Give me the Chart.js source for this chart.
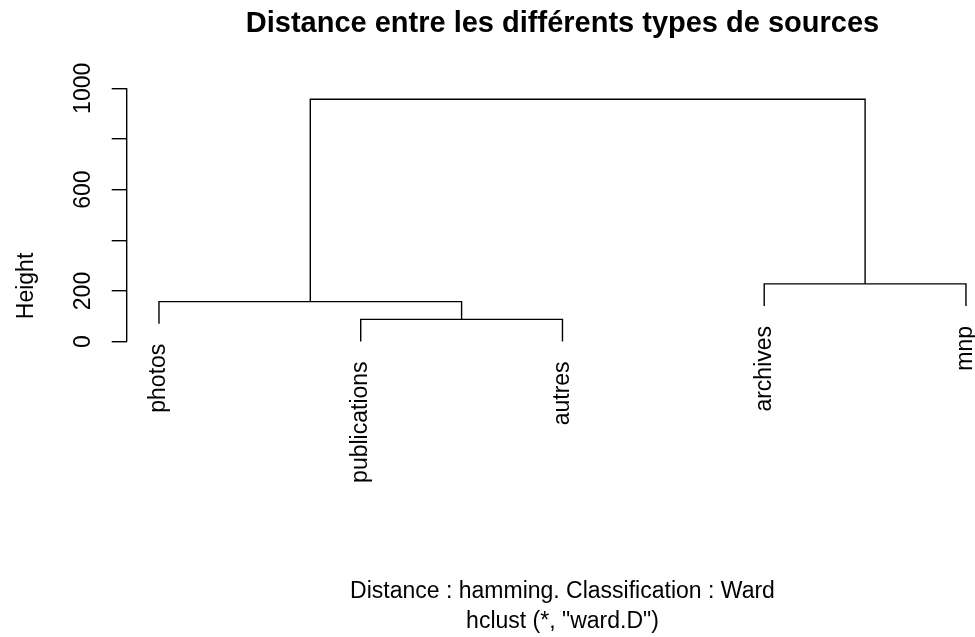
<!DOCTYPE html>
<html>
<head>
<meta charset="utf-8">
<title>Distance entre les différents types de sources</title>
<script src="https://cdn.jsdelivr.net/npm/chart.js@4.4.1/dist/chart.umd.min.js"></script>
<style>
  html, body { margin: 0; padding: 0; background: #fff; }
  canvas { display: block; }
</style>
</head>
<body>
<canvas id="dendro" width="975" height="637"></canvas>
<script>
// feuilles dans l'ordre du dendrogramme
var leafLabels = ['photos', 'publications', 'autres', 'archives', 'mnp'];

// fusions (notation hclust : négatif = feuille, positif = fusion précédente)
var mergeLeft = [-2, -1, -4, 2];
var mergeRight = [-3, 1, -5, 3];
var mergeHeight = [88, 158, 228, 957];

// axe des hauteurs
var yTicks = [0, 200, 400, 600, 800, 1000];
var yTickLabels = ['0', '200', '', '600', '', '1000'];

var titre = 'Distance entre les différents types de sources';
var sousTitre = ['Distance : hamming. Classification : Ward', 'hclust (*, "ward.D")'];

var FONT = 'Liberation Sans, Arial, sans-serif';
var FS = 23;

// hang = 0.1 comme dans plot.hclust
var hang = 0.1 * (Math.max.apply(null, mergeHeight) - Math.min.apply(null, mergeHeight));

var nodeX = [], nodeY = [];
function childPos(c) {
    if (c < 0) return { x: -c, top: null };
    return { x: nodeX[c - 1], top: nodeY[c - 1] };
}

var leafEnds = [];
var datasets = [];
for (var i = 0; i < mergeHeight.length; i++) {
    var h = mergeHeight[i];
    var l = childPos(mergeLeft[i]);
    var r = childPos(mergeRight[i]);
    var lb = l.top === null ? h - hang : l.top;
    var rb = r.top === null ? h - hang : r.top;
    if (mergeLeft[i] < 0) leafEnds[-mergeLeft[i] - 1] = lb;
    if (mergeRight[i] < 0) leafEnds[-mergeRight[i] - 1] = rb;
    nodeX.push((l.x + r.x) / 2);
    nodeY.push(h);
    datasets.push({
        data: [{ x: l.x, y: lb }, { x: l.x, y: h }, { x: r.x, y: h }, { x: r.x, y: rb }],
        showLine: true,
        borderColor: '#000',
        borderWidth: 1.4,
        pointRadius: 0,
        fill: false,
        tension: 0
    });
}

function texteVertical(ctx, txt, x, y) {
    ctx.save();
    ctx.translate(x, y);
    ctx.rotate(-Math.PI / 2);
    ctx.fillText(txt, 0, 0);
    ctx.restore();
}

// textes dessinés comme dans plot.hclust
var textesR = {
    id: 'textesR',
    afterDraw: function (chart) {
        var ctx = chart.ctx;
        var xs = chart.scales.x, ys = chart.scales.y;
        var area = chart.chartArea;
        var cx = xs.getPixelForValue(3);
        ctx.save();
        ctx.fillStyle = '#000';
        ctx.strokeStyle = '#000';

        // ligne de l'axe y entre premier et dernier tick
        ctx.lineWidth = 1.4;
        ctx.beginPath();
        ctx.moveTo(area.left, ys.getPixelForValue(yTicks[0]));
        ctx.lineTo(area.left, ys.getPixelForValue(yTicks[yTicks.length - 1]));
        ctx.stroke();

        // étiquettes de l'axe y
        ctx.font = FS + 'px ' + FONT;
        ctx.textAlign = 'center';
        ctx.textBaseline = 'alphabetic';
        ys.ticks.forEach(function (t, k) {
            if (yTickLabels[k]) texteVertical(ctx, yTickLabels[k], area.left - 36.7, ys.getPixelForValue(t.value));
        });

        // titre de l'axe y
        texteVertical(ctx, 'Height', 32.5, (area.top + area.bottom) / 2);

        // sous-titres
        ctx.fillText(sousTitre[0], cx, 598);
        ctx.fillText(sousTitre[1], cx, 628);

        // titre
        ctx.font = 'bold 29px ' + FONT;
        ctx.fillText(titre, cx, 32);

        // étiquettes des feuilles
        ctx.font = FS + 'px ' + FONT;
        ctx.textAlign = 'right';
        ctx.textBaseline = 'middle';
        leafLabels.forEach(function (lab, k) {
            var px = xs.getPixelForValue(k + 1);
            var py = ys.getPixelForValue(leafEnds[k]) + 20;
            texteVertical(ctx, lab, px, py);
        });

        ctx.restore();
    }
};

Chart.defaults.font.family = FONT;
Chart.defaults.font.size = FS;
Chart.defaults.color = '#000';

new Chart(document.getElementById('dendro').getContext('2d'), {
    type: 'scatter',
    data: { datasets: datasets },
    options: {
        responsive: false,
        animation: false,
        layout: { padding: { left: 111.7, top: 88.3, right: 5, bottom: 153.4 } },
        plugins: {
            legend: { display: false },
            tooltip: { enabled: false },
            title: { display: false }
        },
        scales: {
            x: {
                type: 'linear',
                min: 0.84,
                max: 5.02,
                display: false
            },
            y: {
                type: 'linear',
                min: -560,
                max: 1000,
                afterBuildTicks: function (scale) {
                    scale.ticks = yTicks.map(function (v) { return { value: v }; });
                },
                afterFit: function (scale) {
                    scale.width = 15;
                },
                border: { display: false },
                grid: {
                    drawOnChartArea: false,
                    drawTicks: true,
                    tickLength: 15,
                    color: '#000',
                    lineWidth: 1.4
                },
                ticks: { display: false }
            }
        }
    },
    plugins: [textesR]
});
</script>
</body>
</html>
